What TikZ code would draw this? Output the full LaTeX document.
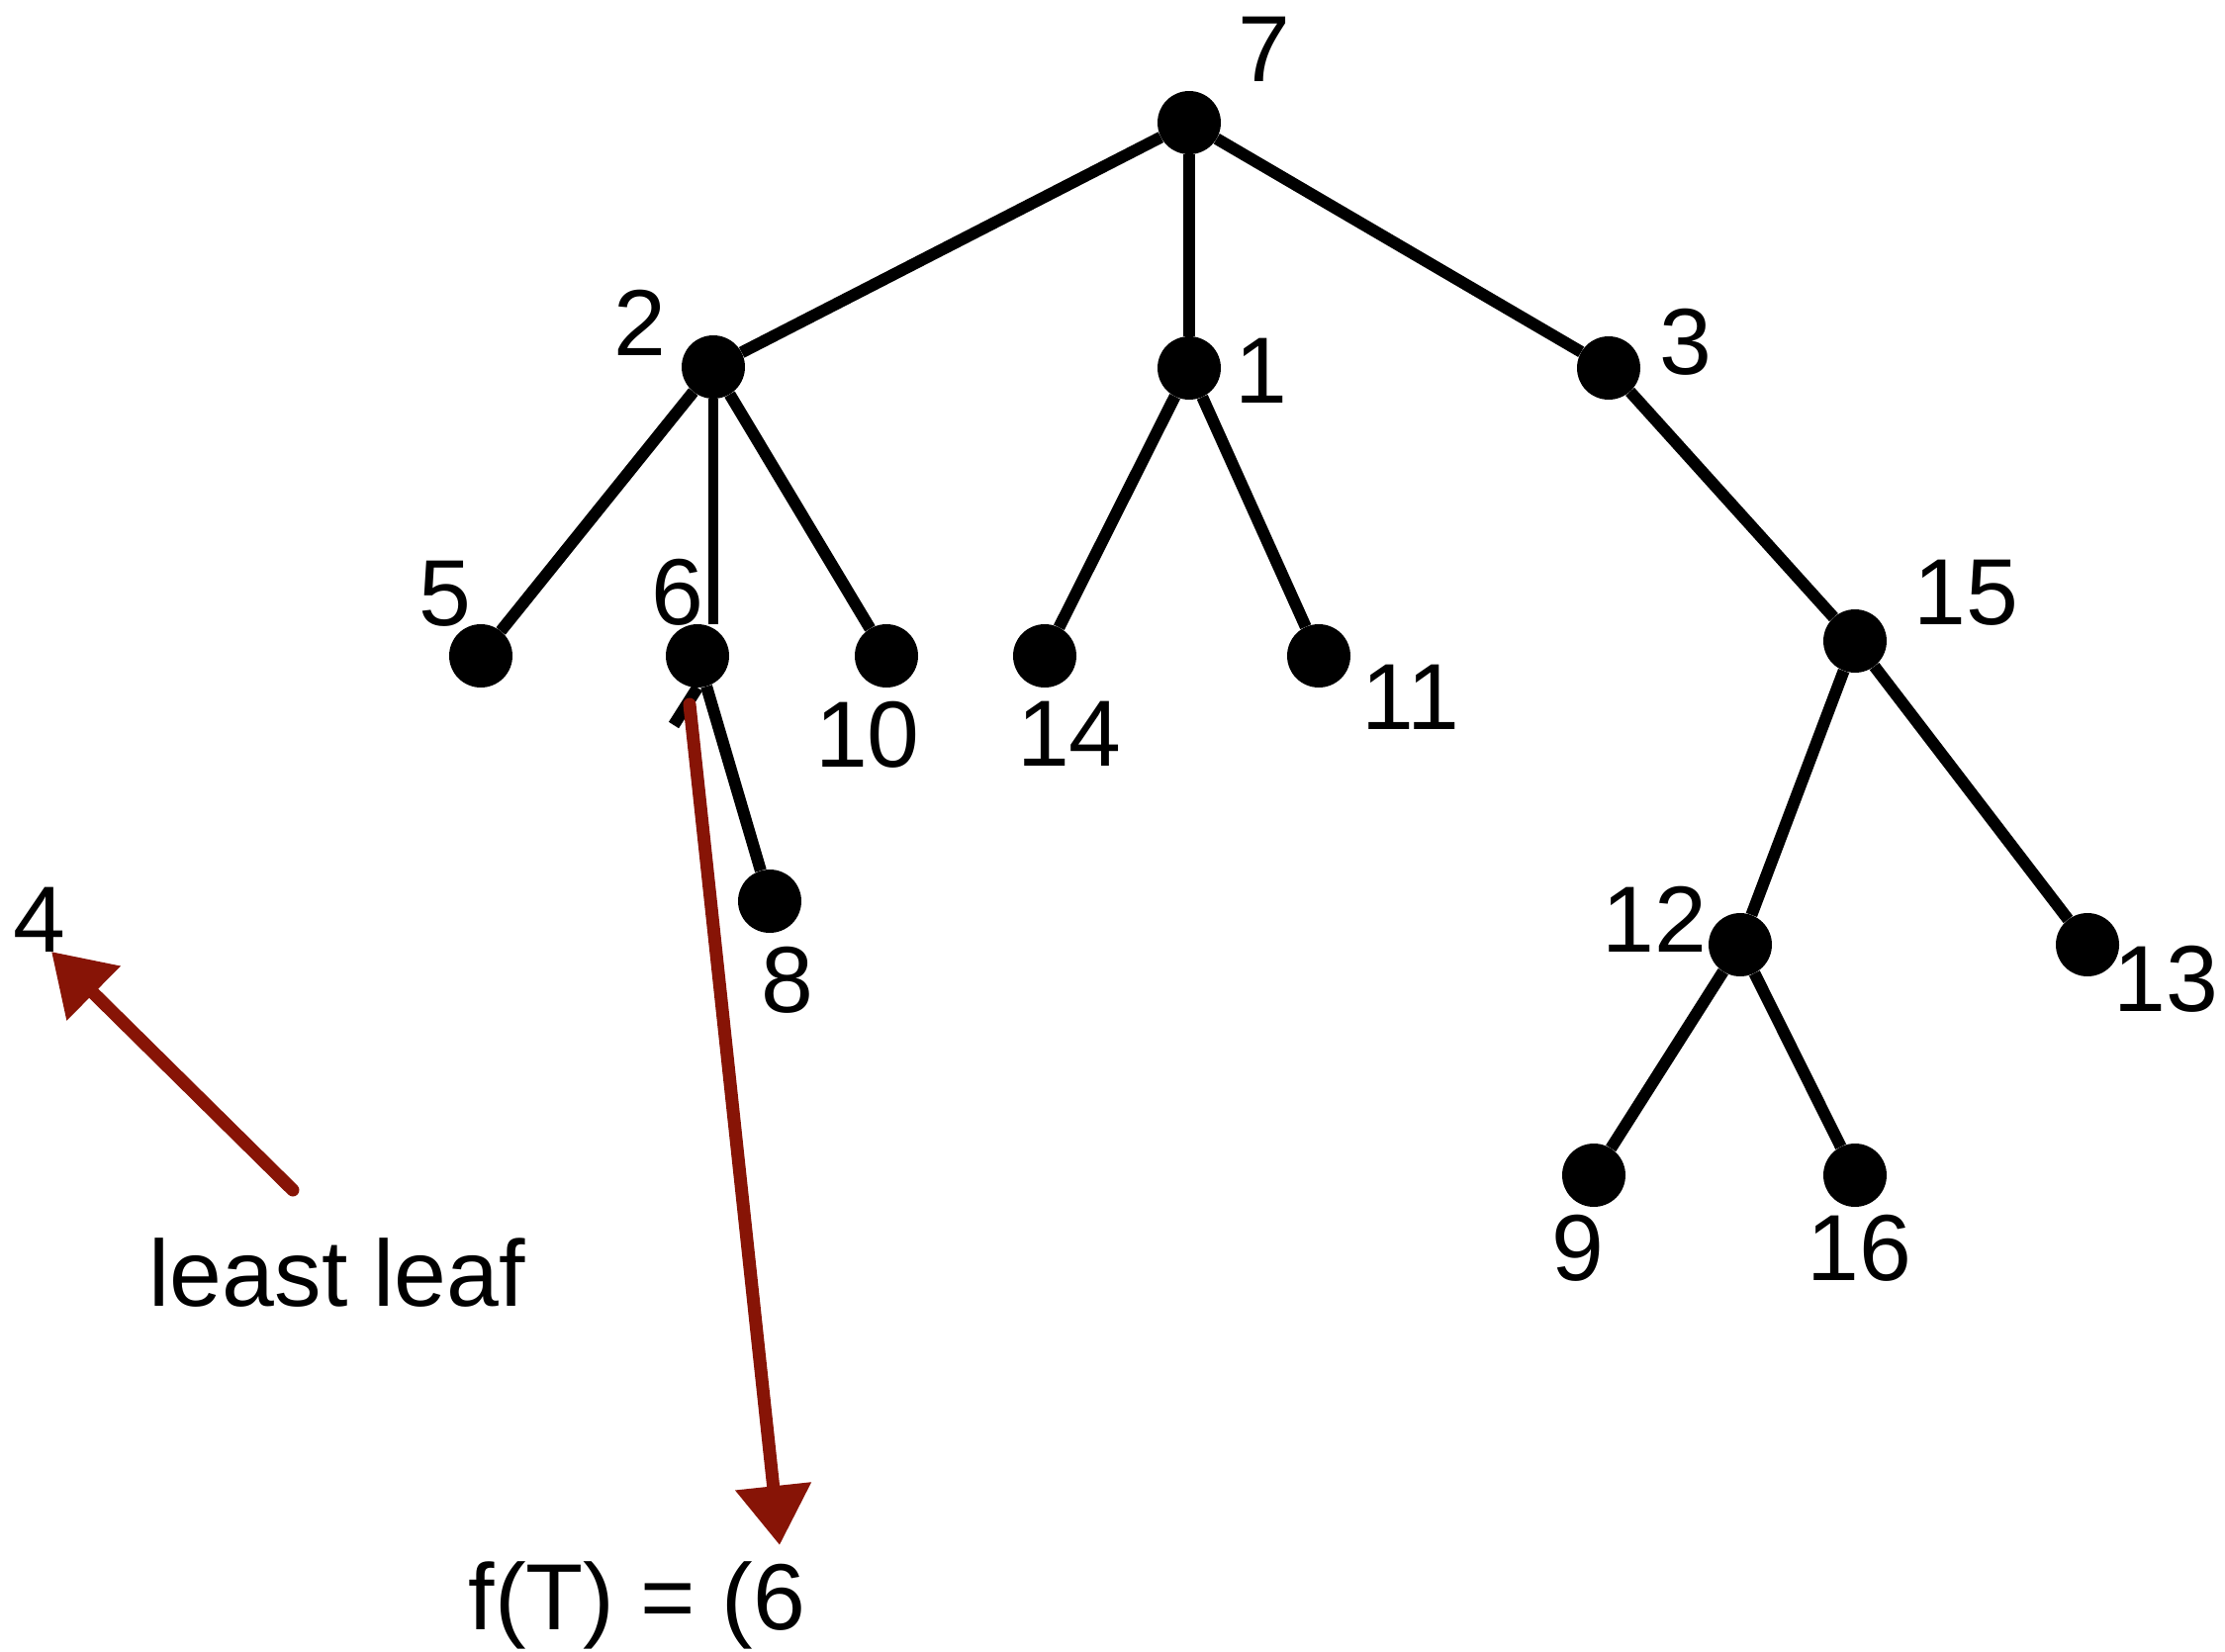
\documentclass[tikz,border=0pt]{standalone}
\usepackage{fontspec}
\setmainfont{Liberation Sans}
\usetikzlibrary{arrows.meta}
\definecolor{pencil}{RGB}{135,20,6}
\begin{document}
\begin{tikzpicture}[x=1pt,y=-1pt,
  dot/.style={circle,fill=black,inner sep=0pt,minimum size=64pt},
  lbl/.style={inner sep=0pt,font=\fontsize{19}{20}\selectfont,scale=5},
  edge/.style={line width=12pt,black},
  redarrow/.style={line width=13pt,pencil,line cap=round,
    -{Triangle[length=60pt,width=74pt]}}]
\useasboundingbox (0,0) rectangle (2249,1670);
% nodes
\node[dot] (n7)  at (1202,124) {};
\node[dot] (n2)  at (721,371) {};
\node[dot] (n1)  at (1202,372) {};
\node[dot] (n3)  at (1626,372) {};
\node[dot] (n5)  at (486,663) {};
\node[dot] (n6)  at (705,663) {};
\node[dot] (n10) at (896,663) {};
\node[dot] (n14) at (1056,663) {};
\node[dot] (n11) at (1333,663) {};
\node[dot] (n15) at (1875,648) {};
\node[dot] (n8)  at (778,911) {};
\node[dot] (n12) at (1759,955) {};
\node[dot] (n13) at (2110,955) {};
\node[dot] (n9)  at (1611,1188) {};
\node[dot] (n16) at (1875,1188) {};
\coordinate (stub) at (681,733);
% edges
\draw[edge] (n7) -- (n2);
\draw[edge] (n7) -- (n1);
\draw[edge] (n7) -- (n3);
\draw[edge] (n2) -- (n5);
\draw[edge,line width=10pt] (n2.south) -- (n2.south |- n6.north);
\draw[edge] (n2) -- (n10);
\draw[edge] (n1) -- (n14);
\draw[edge] (n1) -- (n11);
\draw[edge] (n3) -- (n15);
\draw[edge] (n6) -- (n8);
\draw[edge] (n6.south) -- (stub);
\draw[edge] (n15) -- (n12);
\draw[edge] (n15) -- (n13);
\draw[edge] (n12) -- (n9);
\draw[edge] (n12) -- (n16);
% labels
\node[lbl] (l7)  at (1278,50)  {7};
\node[lbl] (l2)  at (647,326)  {2};
\node[lbl] (l1)  at (1275,375) {1};
\node[lbl] (l3)  at (1704,346) {3};
\node[lbl] (l5)  at (450,600)  {5};
\node[lbl] (l6)  at (685,599)  {6};
\node[lbl] (l10) at (877,743)  {10};
\node[lbl] (l14) at (1081,742) {14};
\node[lbl] (l11) at (1426,705) {11};
\node[lbl] (l15) at (1987,599) {15};
\node[lbl] (l8)  at (796,991)  {8};
\node[lbl] (l12) at (1672,929) {12};
\node[lbl] (l13) at (2189,990) {13};
\node[lbl] (l9)  at (1595,1262) {9};
\node[lbl] (l16) at (1879,1262) {16};
\node[lbl] (l4)  at (40,930)   {4};
\node[lbl,anchor=base] (least) at (341,1320) {least leaf};
\node[lbl,anchor=base] (fT) at (644,1647) {f(T) = (6};
% red pencil arrows
\coordinate (a1s) at (697,712);
\coordinate (a1e) at (788,1562);
\coordinate (a2s) at (296,1203);
\coordinate (a2e) at (52,962);
\draw[redarrow] (a1s) -- (a1e);
\draw[redarrow] (a2s) -- (a2e);
\end{tikzpicture}
\end{document}
